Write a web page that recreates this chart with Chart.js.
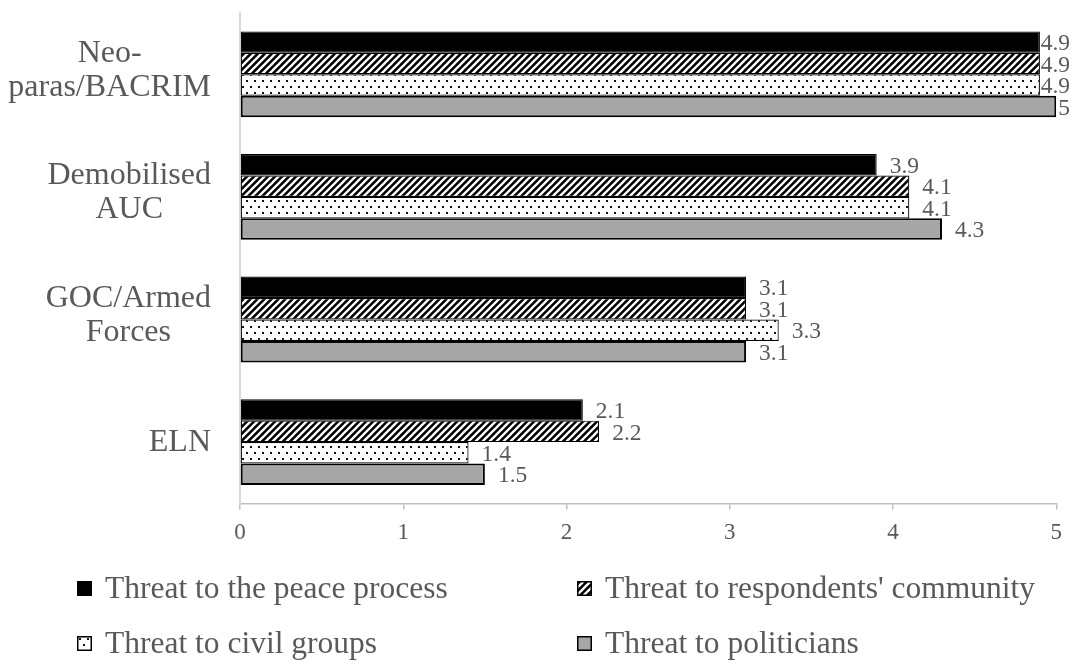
<!DOCTYPE html>
<html>
<head>
<meta charset="utf-8">
<script src="https://cdn.jsdelivr.net/npm/chart.js@4.4.1/dist/chart.umd.min.js"></script>
<style>
  body { margin: 0; background: #fff; }
  #wrap { position: relative; width: 1072px; height: 665px; }
  #legend { position: absolute; left: 0; top: 0; width: 1072px; height: 665px; pointer-events: none;
            font-family: "Liberation Serif", "Times New Roman", serif; font-size: 31.5px; color: #595959; }
  .item { position: absolute; display: flex; align-items: center; height: 40px; }
  .item canvas { margin-right: 13px; }
</style>
</head>
<body>
<div id="wrap">
  <canvas id="threatBar"></canvas>
  <div id="legend"></div>
</div>
<script>
// THREAT PERCEPTION - HORIZONTAL BAR

const groups = [["Neo-", "paras/BACRIM"], ["Demobilised", "AUC"], ["GOC/Armed", "Forces"], ["ELN"]];
const seriesNames = ["Threat to the peace process", "Threat to respondents' community", "Threat to civil groups", "Threat to politicians"];
const peaceProcess = [4.9, 3.9, 3.1, 2.1];
const community = [4.9, 4.1, 3.1, 2.2];
const civilGroups = [4.9, 4.1, 3.3, 1.4];
const politicians = [5, 4.3, 3.1, 1.5];
const xTicks = [0, 1, 2, 3, 4, 5];

const serif = '"Liberation Serif", "Times New Roman", serif';
const grey = '#595959';

function makeFill(ctx, kind) {
    if (kind === 'solid') return '#000';
    if (kind === 'grey') return '#a6a6a6';
    const c = document.createElement('canvas');
    const g = c.getContext('2d');
    if (kind === 'hatch') {
        const s = 7;
        c.width = s; c.height = s;
        g.fillStyle = '#000';
        g.fillRect(0, 0, s, s);
        g.strokeStyle = '#fff';
        g.lineWidth = 2.3;
        g.beginPath();
        g.moveTo(0, s); g.lineTo(s, 0);
        g.moveTo(-1, 1); g.lineTo(1, -1);
        g.moveTo(s - 1, s + 1); g.lineTo(s + 1, s - 1);
        g.stroke();
    } else {
        c.width = 8; c.height = 12;
        g.fillStyle = '#fff';
        g.fillRect(0, 0, 8, 12);
        g.fillStyle = '#111';
        g.fillRect(2, 2, 2, 2);
        g.fillRect(6, 8, 2, 2);
    }
    return ctx.createPattern(c, 'repeat');
}

const kinds = ['solid', 'hatch', 'dots', 'grey'];
const values = [peaceProcess, community, civilGroups, politicians];

const barDiv = document.getElementById("threatBar");
const barCtx = barDiv.getContext('2d');

const threatData = {
    labels: groups,
    datasets: seriesNames.map(function (name, i) {
        return {
            label: name,
            data: values[i],
            backgroundColor: makeFill(barCtx, kinds[i]),
            borderColor: '#000',
            borderWidth: i === 3 ? 2 : 1.2,
            borderSkipped: false,
            categoryPercentage: 0.7,
            barPercentage: 1.0
        };
    })
};

// category labels: lines centred on each other, block right-aligned
const groupLabels = {
    id: 'groupLabels',
    afterDraw(chart) {
        const ctx = chart.ctx;
        const y = chart.scales.y;
        const right = chart.chartArea.left - 29;
        const lineH = 34;
        ctx.save();
        ctx.font = '32px ' + serif;
        ctx.fillStyle = grey;
        ctx.textAlign = 'center';
        ctx.textBaseline = 'middle';
        groups.forEach(function (lines, i) {
            const cy = y.getPixelForTick(i);
            const w = Math.max.apply(null, lines.map(function (l) { return ctx.measureText(l).width; }));
            const cx = right - w / 2;
            const shift = lines.length > 1 ? -4 : 0;
            lines.forEach(function (l, j) {
                ctx.fillText(l, cx, cy + shift + (j - (lines.length - 1) / 2) * lineH);
            });
        });
        ctx.restore();
    }
};

// value labels at bar ends, kept inside the canvas
const valueLabels = {
    id: 'valueLabels',
    afterDatasetsDraw(chart) {
        const ctx = chart.ctx;
        ctx.save();
        ctx.font = '23.5px ' + serif;
        ctx.fillStyle = grey;
        ctx.textAlign = 'left';
        ctx.textBaseline = 'middle';
        chart.data.datasets.forEach(function (ds, di) {
            chart.getDatasetMeta(di).data.forEach(function (bar, i) {
                const txt = String(ds.data[i]);
                const w = ctx.measureText(txt).width;
                const x = Math.min(bar.x + 13, chart.width - 2 - w);
                ctx.fillText(txt, x, bar.y + 2);
            });
        });
        ctx.restore();
    }
};

const threatChart = new Chart(barDiv, {
    type: 'bar',
    data: threatData,
    plugins: [groupLabels, valueLabels],
    options: {
        indexAxis: 'y',
        responsive: true,
        maintainAspectRatio: false,
        animation: false,
        layout: { padding: { left: 240, top: 13, right: 10, bottom: 108 } },
        plugins: {
            legend: { display: false },
            tooltip: { enabled: false }
        },
        scales: {
            x: {
                min: 0,
                max: 5,
                afterBuildTicks: function (axis) {
                    axis.ticks = xTicks.map(function (v) { return { value: v }; });
                },
                grid: { drawOnChartArea: false, drawTicks: true, tickLength: 6, color: '#bfbfbf', lineWidth: 1.5 },
                border: { display: true, color: '#bfbfbf', width: 1.5 },
                ticks: { font: { family: serif, size: 23 }, color: grey, padding: 10 }
            },
            y: {
                grid: { display: false, drawTicks: false },
                border: { display: true, color: '#d9d9d9', width: 2 },
                ticks: { display: false }
            }
        }
    }
});

// LEGEND - two columns under the plot
const legendDiv = document.getElementById('legend');
const spots = [[77, 568], [577, 568], [77, 623], [577, 623]];
threatChart.data.datasets.forEach(function (ds, i) {
    const item = document.createElement('div');
    item.className = 'item';
    item.style.left = spots[i][0] + 'px';
    item.style.top = spots[i][1] + 'px';
    const sw = document.createElement('canvas');
    sw.width = 15; sw.height = 15;
    const g = sw.getContext('2d');
    g.fillStyle = makeFill(g, kinds[i]);
    g.fillRect(0, 0, 15, 15);
    g.strokeStyle = '#000';
    g.lineWidth = 1.5;
    g.strokeRect(0.75, 0.75, 13.5, 13.5);
    const txt = document.createElement('span');
    txt.textContent = ds.label;
    item.appendChild(sw);
    item.appendChild(txt);
    legendDiv.appendChild(item);
});
</script>
</body>
</html>
